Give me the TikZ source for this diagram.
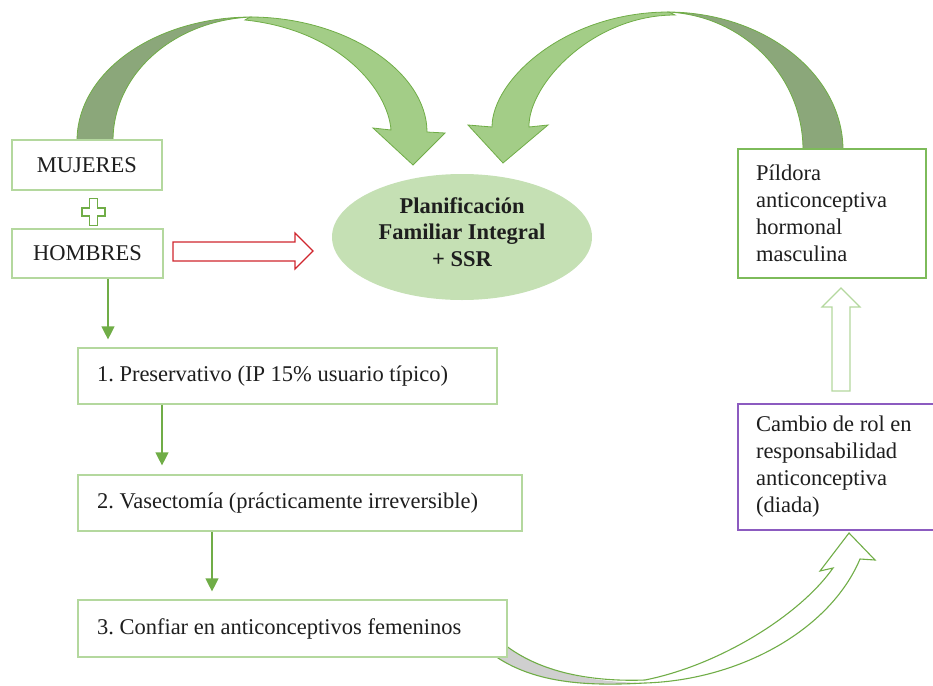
\documentclass[tikz,border=0pt]{standalone}
\usepackage{fontspec}
\setmainfont{Liberation Serif}
\usetikzlibrary{arrows.meta,shapes.geometric}
\definecolor{palegreen}{HTML}{B4D89E}
\definecolor{pilgreen}{HTML}{7DBB5A}
\definecolor{linegreen}{HTML}{70AD47}
\definecolor{lightarrow}{HTML}{A3CD87}
\definecolor{darkarrow}{HTML}{8BA77A}
\definecolor{ellfill}{HTML}{C5E0B4}
\definecolor{purpleline}{HTML}{8C5BC0}
\definecolor{redline}{HTML}{D0262E}
\definecolor{txt}{HTML}{1E1E1E}
\definecolor{backgray}{HTML}{CFCFCF}
\newcommand{\diagfont}{\fontsize{22.5}{27}\selectfont\frenchspacing\spaceskip=0.25em plus 0.02em minus 0.02em\relax}
\begin{document}
\begin{tikzpicture}[x=1pt,y=-1pt,
  every node/.style={font=\diagfont, text=txt},
  gbox/.style={draw=palegreen, line width=1.2pt, fill=white, rectangle, inner sep=0pt},
  lbox/.style={gbox, inner xsep=19pt, align=flush left},
  garrow/.style={draw=linegreen, line width=1.3pt, -{Triangle[width=13pt,length=13pt]}},
  blockarrow/.style={line width=1.2pt, fill=white, line join=miter},
  bigarrow/.style={draw=linegreen, line width=0.8pt}]
\useasboundingbox (0,0) rectangle (933,685);

% ---- top left curved arrow (MUJERES -> ellipse)
\path[bigarrow, fill=lightarrow]
  (250,17) .. controls (346,17) and (427,72) .. (427,132)
  -- (445,133) -- (413,165) -- (373,128) -- (391,130)
  .. controls (388,90) and (340,30) .. (245,20) -- cycle;
\path[bigarrow, fill=darkarrow]
  (77,141) .. controls (77,72) and (155,17) .. (252,17)
  .. controls (175,20) and (113,73) .. (113,141) -- cycle;

% ---- top right curved arrow (Píldora -> ellipse)
\path[bigarrow, fill=lightarrow]
  (669,12) .. controls (565,12) and (492,80) .. (492,127)
  -- (468,125) -- (503,163) -- (548,125) -- (529,127)
  .. controls (528,85) and (592,15) .. (675,15) -- cycle;
\path[bigarrow, fill=darkarrow]
  (843,150) .. controls (843,74) and (764,12) .. (667,12)
  .. controls (742,15) and (803,75) .. (803,150) -- cycle;

% ---- bottom curved hollow arrow (3 -> Cambio)
\fill[backgray]
  (487,650) .. controls (530,685) and (590,686) .. (645,683)
  .. controls (590,682) and (540,672) .. (505,645) -- cycle;
\fill[white]
  (645,682) .. controls (740,680) and (830,630) .. (860,559)
  -- (875,560) -- (849,533) -- (820,571) -- (833,568)
  .. controls (800,615) and (720,665) .. (645,680) -- cycle;
\draw[draw=linegreen, line width=1.1pt, line join=miter]
  (487,650) .. controls (530,685) and (590,686) .. (645,683)
  .. controls (740,680) and (830,630) .. (860,559)
  -- (875,560) -- (849,533) -- (820,571) -- (833,568)
  .. controls (800,615) and (720,665) .. (645,680)
  .. controls (590,682) and (540,672) .. (505,645);

% ---- nodes
\node[gbox, minimum width=150, minimum height=50] (muj) at (87,165) {MUJERES};
\node[gbox, minimum width=151, minimum height=49] (hom) at (87.5,253.5) {HOMBRES};
\node[lbox, minimum height=56, text width=381] (b1) at (287.5,376)
  {1. Preservativo (IP 15\% usuario típico)};
\node[lbox, minimum height=56, text width=406] (b2) at (300,503)
  {2. Vasectomía (prácticamente irreversible)};
\node[lbox, minimum height=57, text width=391] (b3) at (292.5,628.5)
  {3. Confiar en anticonceptivos femeninos};
\node[ellipse, fill=ellfill, minimum width=260, minimum height=126, inner sep=0pt] (ell) at (462,237) {};
\node[font=\fontsize{22.5}{26.5}\selectfont\bfseries, align=center, inner sep=0pt] (elltext) at (462,232)
  {Planificación\\Familiar Integral\\+ SSR};
\node[gbox, draw=pilgreen, inner xsep=18pt, align=flush left, text width=152, minimum height=129] (pil) at (832,213.5)
  {Píldora\\anticonceptiva\\hormonal\\masculina};
\node[gbox, draw=purpleline, inner xsep=18pt, align=flush left, text width=160, minimum height=126] (cam) at (836,467)
  {Cambio de rol en\\responsabilidad\\anticonceptiva\\(diada)};

% ---- plus sign
\draw[draw=linegreen, line width=1.2pt, fill=white]
  (89.5,198.5) -- (97.5,198.5) -- (97.5,208) -- (105,208) -- (105,216) -- (97.5,216)
  -- (97.5,225.5) -- (89.5,225.5) -- (89.5,216) -- (82,216) -- (82,208) -- (89.5,208) -- cycle;

% ---- red hollow arrow
\draw[blockarrow, draw=redline]
  (173,242) -- (295,242) -- (295,233) -- (313,251) -- (295,269) -- (295,261) -- (173,261) -- cycle;

% ---- up hollow arrow
\draw[blockarrow, draw=palegreen]
  (832,391) -- (832,307) -- (822,307) -- (841,288) -- (860,307) -- (850,307) -- (850,391) -- cycle;

% ---- vertical connectors
\draw[garrow, shorten >=8pt] ([xshift=20.5pt]hom.south) -- ([xshift=20.5pt]hom.south |- b1.north);
\draw[garrow, shorten >=9pt] ([xshift=-125.5pt]b1.south) -- ([xshift=-125.5pt]b1.south |- b2.north);
\draw[garrow, shorten >=8pt] ([xshift=-88pt]b2.south) -- ([xshift=-88pt]b2.south |- b3.north);
\end{tikzpicture}
\end{document}
